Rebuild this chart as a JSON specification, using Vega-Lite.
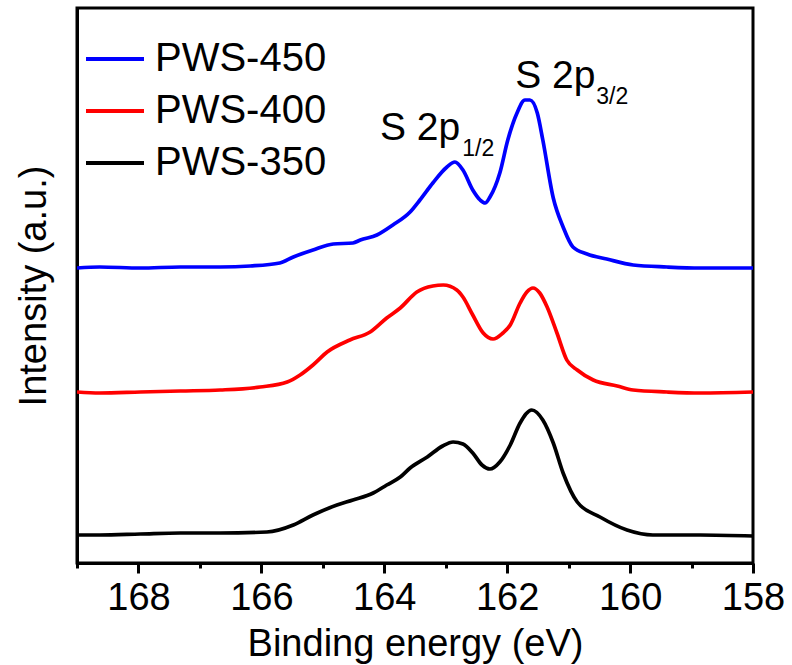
{
  "$schema": "https://vega.github.io/schema/vega-lite/v6.json",
  "width": 676,
  "height": 555,
  "autosize": {"type": "none"},
  "padding": {"left": 77, "top": 8, "right": 39, "bottom": 102},
  "config": {
    "font": "Liberation Sans",
    "view": {"stroke": "#000000", "strokeWidth": 3},
    "axis": {"domainColor": "#000000", "domainWidth": 3, "tickColor": "#000000", "labelColor": "#000000", "titleColor": "#000000", "grid": false, "titleFontWeight": "normal"}
  },
  "datasets": {
    "spectra": [
      {"sample": "PWS-350", "energy": 169.00, "intensity": 28},
      {"sample": "PWS-350", "energy": 168.63, "intensity": 28},
      {"sample": "PWS-350", "energy": 167.97, "intensity": 29},
      {"sample": "PWS-350", "energy": 167.32, "intensity": 30},
      {"sample": "PWS-350", "energy": 166.67, "intensity": 30},
      {"sample": "PWS-350", "energy": 165.91, "intensity": 31},
      {"sample": "PWS-350", "energy": 165.48, "intensity": 38},
      {"sample": "PWS-350", "energy": 165.16, "intensity": 48},
      {"sample": "PWS-350", "energy": 164.77, "intensity": 58},
      {"sample": "PWS-350", "energy": 164.51, "intensity": 63},
      {"sample": "PWS-350", "energy": 164.18, "intensity": 70},
      {"sample": "PWS-350", "energy": 163.96, "intensity": 78},
      {"sample": "PWS-350", "energy": 163.74, "intensity": 86},
      {"sample": "PWS-350", "energy": 163.58, "intensity": 95},
      {"sample": "PWS-350", "energy": 163.30, "intensity": 106},
      {"sample": "PWS-350", "energy": 163.05, "intensity": 117},
      {"sample": "PWS-350", "energy": 162.88, "intensity": 121},
      {"sample": "PWS-350", "energy": 162.72, "intensity": 119},
      {"sample": "PWS-350", "energy": 162.56, "intensity": 110},
      {"sample": "PWS-350", "energy": 162.41, "intensity": 98},
      {"sample": "PWS-350", "energy": 162.28, "intensity": 94},
      {"sample": "PWS-350", "energy": 162.12, "intensity": 101},
      {"sample": "PWS-350", "energy": 161.95, "intensity": 118},
      {"sample": "PWS-350", "energy": 161.79, "intensity": 140},
      {"sample": "PWS-350", "energy": 161.60, "intensity": 153},
      {"sample": "PWS-350", "energy": 161.42, "intensity": 143},
      {"sample": "PWS-350", "energy": 161.25, "intensity": 120},
      {"sample": "PWS-350", "energy": 161.09, "intensity": 90},
      {"sample": "PWS-350", "energy": 160.86, "intensity": 61},
      {"sample": "PWS-350", "energy": 160.49, "intensity": 46},
      {"sample": "PWS-350", "energy": 160.05, "intensity": 33},
      {"sample": "PWS-350", "energy": 159.63, "intensity": 28},
      {"sample": "PWS-350", "energy": 158.86, "intensity": 28},
      {"sample": "PWS-350", "energy": 158.00, "intensity": 27},

      {"sample": "PWS-400", "energy": 169.00, "intensity": 171},
      {"sample": "PWS-400", "energy": 168.63, "intensity": 170},
      {"sample": "PWS-400", "energy": 167.97, "intensity": 171},
      {"sample": "PWS-400", "energy": 167.32, "intensity": 172},
      {"sample": "PWS-400", "energy": 166.67, "intensity": 173},
      {"sample": "PWS-400", "energy": 166.02, "intensity": 176},
      {"sample": "PWS-400", "energy": 165.58, "intensity": 181},
      {"sample": "PWS-400", "energy": 165.37, "intensity": 188},
      {"sample": "PWS-400", "energy": 165.16, "intensity": 198},
      {"sample": "PWS-400", "energy": 164.93, "intensity": 211},
      {"sample": "PWS-400", "energy": 164.56, "intensity": 223},
      {"sample": "PWS-400", "energy": 164.23, "intensity": 231},
      {"sample": "PWS-400", "energy": 163.96, "intensity": 245},
      {"sample": "PWS-400", "energy": 163.74, "intensity": 255},
      {"sample": "PWS-400", "energy": 163.47, "intensity": 271},
      {"sample": "PWS-400", "energy": 163.21, "intensity": 277},
      {"sample": "PWS-400", "energy": 163.04, "intensity": 278},
      {"sample": "PWS-400", "energy": 162.82, "intensity": 273},
      {"sample": "PWS-400", "energy": 162.72, "intensity": 266},
      {"sample": "PWS-400", "energy": 162.56, "intensity": 248},
      {"sample": "PWS-400", "energy": 162.39, "intensity": 230},
      {"sample": "PWS-400", "energy": 162.23, "intensity": 224},
      {"sample": "PWS-400", "energy": 162.07, "intensity": 230},
      {"sample": "PWS-400", "energy": 161.95, "intensity": 238},
      {"sample": "PWS-400", "energy": 161.79, "intensity": 260},
      {"sample": "PWS-400", "energy": 161.68, "intensity": 271},
      {"sample": "PWS-400", "energy": 161.58, "intensity": 275},
      {"sample": "PWS-400", "energy": 161.47, "intensity": 270},
      {"sample": "PWS-400", "energy": 161.35, "intensity": 256},
      {"sample": "PWS-400", "energy": 161.19, "intensity": 230},
      {"sample": "PWS-400", "energy": 161.03, "intensity": 203},
      {"sample": "PWS-400", "energy": 160.86, "intensity": 193},
      {"sample": "PWS-400", "energy": 160.60, "intensity": 183},
      {"sample": "PWS-400", "energy": 160.21, "intensity": 177},
      {"sample": "PWS-400", "energy": 159.95, "intensity": 173},
      {"sample": "PWS-400", "energy": 159.40, "intensity": 171},
      {"sample": "PWS-400", "energy": 158.86, "intensity": 170},
      {"sample": "PWS-400", "energy": 158.00, "intensity": 171},

      {"sample": "PWS-450", "energy": 169.00, "intensity": 295},
      {"sample": "PWS-450", "energy": 168.63, "intensity": 296},
      {"sample": "PWS-450", "energy": 167.97, "intensity": 295},
      {"sample": "PWS-450", "energy": 167.32, "intensity": 296},
      {"sample": "PWS-450", "energy": 166.67, "intensity": 296},
      {"sample": "PWS-450", "energy": 166.18, "intensity": 297},
      {"sample": "PWS-450", "energy": 165.70, "intensity": 300},
      {"sample": "PWS-450", "energy": 165.48, "intensity": 306},
      {"sample": "PWS-450", "energy": 165.16, "intensity": 313},
      {"sample": "PWS-450", "energy": 164.83, "intensity": 319},
      {"sample": "PWS-450", "energy": 164.51, "intensity": 320},
      {"sample": "PWS-450", "energy": 164.39, "intensity": 323},
      {"sample": "PWS-450", "energy": 164.12, "intensity": 328},
      {"sample": "PWS-450", "energy": 163.86, "intensity": 338},
      {"sample": "PWS-450", "energy": 163.58, "intensity": 351},
      {"sample": "PWS-450", "energy": 163.42, "intensity": 363},
      {"sample": "PWS-450", "energy": 163.21, "intensity": 380},
      {"sample": "PWS-450", "energy": 162.98, "intensity": 396},
      {"sample": "PWS-450", "energy": 162.85, "intensity": 401},
      {"sample": "PWS-450", "energy": 162.72, "intensity": 393},
      {"sample": "PWS-450", "energy": 162.56, "intensity": 373},
      {"sample": "PWS-450", "energy": 162.44, "intensity": 363},
      {"sample": "PWS-450", "energy": 162.36, "intensity": 360},
      {"sample": "PWS-450", "energy": 162.28, "intensity": 366},
      {"sample": "PWS-450", "energy": 162.12, "intensity": 390},
      {"sample": "PWS-450", "energy": 161.99, "intensity": 423},
      {"sample": "PWS-450", "energy": 161.84, "intensity": 450},
      {"sample": "PWS-450", "energy": 161.71, "intensity": 463},
      {"sample": "PWS-450", "energy": 161.63, "intensity": 463},
      {"sample": "PWS-450", "energy": 161.51, "intensity": 450},
      {"sample": "PWS-450", "energy": 161.42, "intensity": 423},
      {"sample": "PWS-450", "energy": 161.25, "intensity": 365},
      {"sample": "PWS-450", "energy": 161.09, "intensity": 336},
      {"sample": "PWS-450", "energy": 160.93, "intensity": 316},
      {"sample": "PWS-450", "energy": 160.70, "intensity": 309},
      {"sample": "PWS-450", "energy": 160.38, "intensity": 304},
      {"sample": "PWS-450", "energy": 159.95, "intensity": 298},
      {"sample": "PWS-450", "energy": 159.40, "intensity": 296},
      {"sample": "PWS-450", "energy": 158.86, "intensity": 295},
      {"sample": "PWS-450", "energy": 158.00, "intensity": 295}
    ],
    "peaks": [
      {"label": "S 2p", "sub": "1/2", "energy": 164.07, "intensity": 423, "subEnergy": 162.73, "subIntensity": 407},
      {"label": "S 2p", "sub": "3/2", "energy": 161.87, "intensity": 475, "subEnergy": 160.55, "subIntensity": 459}
    ]
  },
  "layer": [
    {
      "data": {"name": "spectra"},
      "mark": {"type": "line", "strokeWidth": 3.7, "interpolate": "monotone", "clip": true},
      "encoding": {
        "x": {
          "field": "energy", "type": "quantitative",
          "scale": {"domain": [158, 169], "reverse": true, "nice": false, "zero": false},
          "axis": {
            "title": "Binding energy (eV)",
            "values": [169, 168, 167, 166, 165, 164, 163, 162, 161, 160, 159, 158],
            "format": "d",
            "labelExpr": "datum.value % 2 === 0 ? datum.label : ''",
            "labelFontSize": 38, "labelPadding": 6, "labelFlush": false,
            "tickWidth": 3,
            "tickSize": {"condition": {"test": "datum.value % 2 === 0", "value": 10}, "value": 5},
            "titleFontSize": 38, "titlePadding": 8
          }
        },
        "y": {
          "field": "intensity", "type": "quantitative",
          "scale": {"domain": [0, 555], "nice": false},
          "axis": {"title": "Intensity (a.u.)", "ticks": false, "labels": false, "titleFontSize": 38, "titlePadding": 24}
        },
        "color": {
          "field": "sample", "type": "nominal",
          "scale": {"domain": ["PWS-450", "PWS-400", "PWS-350"], "range": ["#0000ff", "#ff0000", "#000000"]},
          "legend": {
            "title": null, "orient": "none", "legendX": 7, "legendY": 20, "padding": 0,
            "symbolType": "stroke", "symbolSize": 3364, "symbolStrokeWidth": 4,
            "labelFontSize": 40, "labelColor": "#000000", "labelOffset": 9, "labelLimit": 0, "rowPadding": 1
          }
        }
      }
    },
    {
      "data": {"name": "peaks"},
      "mark": {"type": "text", "align": "left", "baseline": "alphabetic", "fontSize": 39, "color": "#000000"},
      "encoding": {
        "x": {"field": "energy", "type": "quantitative"},
        "y": {"field": "intensity", "type": "quantitative"},
        "text": {"field": "label"}
      }
    },
    {
      "data": {"name": "peaks"},
      "mark": {"type": "text", "align": "left", "baseline": "alphabetic", "fontSize": 23, "color": "#000000"},
      "encoding": {
        "x": {"field": "subEnergy", "type": "quantitative"},
        "y": {"field": "subIntensity", "type": "quantitative"},
        "text": {"field": "sub"}
      }
    }
  ]
}
